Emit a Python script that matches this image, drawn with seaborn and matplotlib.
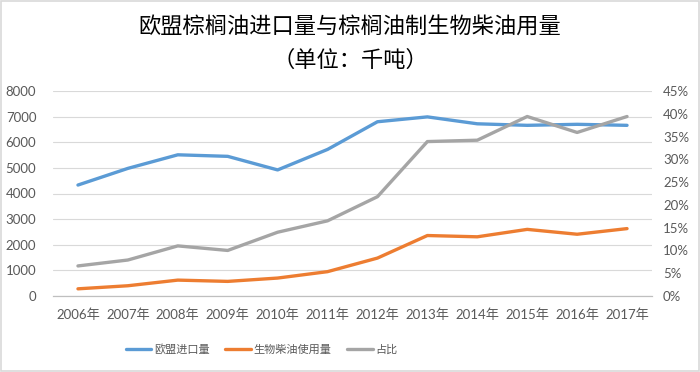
import numpy as np
import pandas as pd
import matplotlib
matplotlib.use("Agg")
import matplotlib.pyplot as plt
import seaborn as sns
from matplotlib.ticker import FuncFormatter, MultipleLocator, FixedLocator

# data
years = ["2006年", "2007年", "2008年", "2009年", "2010年", "2011年",
         "2012年", "2013年", "2014年", "2015年", "2016年", "2017年"]
eu_import = [4330, 4980, 5510, 5450, 4920, 5720, 6800, 6990, 6720, 6660, 6700, 6660]
biodiesel = [280, 400, 620, 570, 700, 950, 1480, 2360, 2310, 2600, 2410, 2630]
share = [6.6, 7.9, 11.0, 10.0, 14.0, 16.5, 21.8, 33.9, 34.2, 39.4, 35.9, 39.4]

title = "欧盟棕榈油进口量与棕榈油制生物柴油用量\n（单位：千吨）"
names = ["欧盟进口量", "生物柴油使用量", "占比"]
colors = ["#5B9BD5", "#ED7D31", "#A5A5A5"]

sns.set_theme(style="white")
plt.rcParams['font.family'] = ['Lato', 'Noto Sans CJK SC', 'DejaVu Sans']

df = pd.DataFrame({"pos": np.arange(len(years)), "eu": eu_import,
                   "bio": biodiesel, "share": share})

fig = plt.figure(figsize=(7, 3.72), dpi=100)
ax = fig.add_axes([53 / 700, 76 / 372, 599 / 700, 205 / 372])
ax2 = ax.twinx()

lw = 2.4
sns.lineplot(data=df, x="pos", y="eu", ax=ax, color=colors[0], linewidth=lw, label=names[0], legend=False)
sns.lineplot(data=df, x="pos", y="bio", ax=ax, color=colors[1], linewidth=lw, label=names[1], legend=False)
sns.lineplot(data=df, x="pos", y="share", ax=ax2, color=colors[2], linewidth=lw, label=names[2], legend=False)

tick_color = "#595959"
ax.set_xlim(-0.5, len(years) - 0.5)
ax.set_ylim(0, 8000)
ax.yaxis.set_major_locator(MultipleLocator(1000))
ax2.set_ylim(0, 45)
ax2.yaxis.set_major_locator(MultipleLocator(5))
ax2.yaxis.set_major_formatter(FuncFormatter(lambda v, p: f"{v:.0f}%"))

ax.set_xticks(df["pos"])
ax.set_xticklabels(years)
ax.xaxis.set_minor_locator(FixedLocator(np.arange(-0.5, len(years), 1.0)))
ax.tick_params(axis="x", which="major", length=0, pad=9, labelsize=9.5, labelcolor=tick_color)
ax.tick_params(axis="x", which="minor", length=4, color="#BFBFBF", width=0.8)
ax.tick_params(axis="y", length=0, labelsize=9.5, labelcolor=tick_color, pad=12)
ax2.tick_params(axis="y", length=0, labelsize=9.5, labelcolor=tick_color, pad=8)
ax.set_xlabel("")
ax.set_ylabel("")
ax2.set_ylabel("")

ax.grid(axis="y", color="#D9D9D9", linewidth=0.8)
ax.set_axisbelow(True)
for a in (ax, ax2):
    for side in ("top", "left", "right"):
        a.spines[side].set_visible(False)
    a.spines["bottom"].set_color("#BFBFBF")
    a.spines["bottom"].set_linewidth(0.8)

fig.text(0.5, 0.882, title, ha="center", va="center", fontsize=16,
         color="#000000", linespacing=1.55, family=['Noto Sans CJK SC', 'DejaVu Sans'])

handles = ax.get_lines()[:2] + ax2.get_lines()[:1]
fig.legend(handles, names, loc="center", bbox_to_anchor=(0.374, 0.062), ncol=3,
           frameon=False, fontsize=8, handlelength=2.3, handletextpad=0.25,
           columnspacing=1.4, labelcolor=tick_color)

fig.patches.append(plt.Rectangle((0.002, 0.003), 0.996, 0.994, transform=fig.transFigure,
                                 fill=False, edgecolor="#D9D9D9", linewidth=1.2))

fig.savefig("out.png", dpi=100)
